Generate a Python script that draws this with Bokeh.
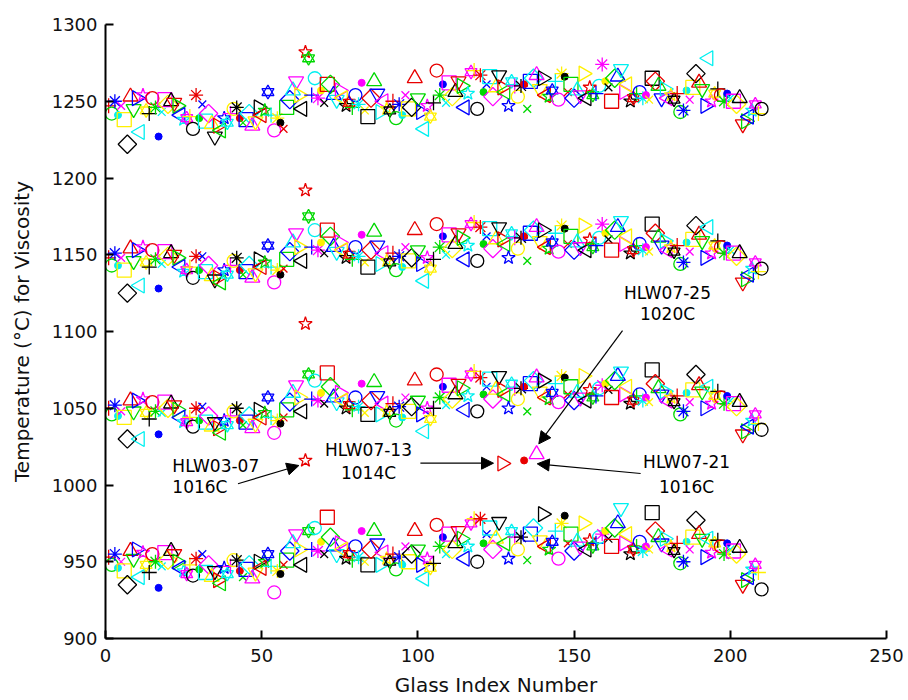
import math
from bokeh.plotting import figure
from bokeh.models import Range1d, FixedTicker, Arrow, NormalHead
from bokeh.core.properties import value
from bokeh.embed import file_html
from bokeh.resources import INLINE

# ---------------- data ----------------
glass_index = list(range(1, 211))

# temperature (C) at four viscosity levels, one value per glass
t_band1 = [
    1247, 1242, 1250, 1241, 1247, 1238, 1222, 1253, 1245, 1252,
    1230, 1254, 1244, 1242, 1252, 1246, 1227, 1243, 1251, 1248,
    1250, 1249, 1247, 1241, 1238, 1239, 1240, 1232, 1254, 1239,
    1248, 1237, 1242, 1235, 1227, 1234, 1231, 1239, 1236, 1242,
    1245, 1246, 1239, 1236, 1238, 1242, 1234, 1237, 1246, 1241,
    1244, 1256, 1241, 1231, 1239, 1236, 1232, 1246, 1251, 1257,
    1263, 1254, 1245, 1282, 1278, 1254, 1265, 1252, 1257, 1249,
    1261, 1261, 1254, 1251, 1257, 1252, 1247, 1249, 1246, 1254,
    1248, 1262, 1244, 1240, 1252, 1263, 1255, 1243, 1250, 1245,
    1244, 1250, 1239, 1248, 1241, 1254, 1245, 1246, 1265, 1252,
    1243, 1232, 1247, 1240, 1249, 1270, 1254, 1261, 1249, 1262,
    1253, 1256, 1263, 1260, 1246, 1255, 1269, 1270, 1245, 1267,
    1256, 1261, 1266, 1253, 1259, 1267, 1259, 1256, 1247, 1263,
    1260, 1253, 1260, 1261, 1245, 1263, 1265, 1267, 1258, 1265,
    1254, 1253, 1257, 1263, 1251, 1268, 1266, 1256, 1261, 1252,
    1257, 1254, 1268, 1252, 1259, 1254, 1255, 1260, 1274, 1263,
    1259, 1250, 1265, 1266, 1271, 1256, 1261, 1250, 1252, 1255,
    1256, 1252, 1254, 1251, 1265, 1263, 1260, 1252, 1258, 1252,
    1254, 1251, 1255, 1243, 1244, 1257, 1251, 1259, 1268, 1262,
    1258, 1247, 1278, 1250, 1255, 1258, 1254, 1250, 1255, 1252,
    1250, 1248, 1252, 1235, 1237, 1240, 1244, 1248, 1242, 1245,
]
t_band2 = [
    1148, 1143, 1151, 1143, 1148, 1140, 1125, 1154, 1146, 1153,
    1130, 1155, 1145, 1142, 1153, 1147, 1128, 1144, 1152, 1149,
    1151, 1150, 1148, 1142, 1139, 1140, 1142, 1135, 1149, 1140,
    1149, 1139, 1143, 1136, 1134, 1135, 1132, 1140, 1137, 1143,
    1146, 1148, 1140, 1137, 1139, 1143, 1135, 1138, 1147, 1142,
    1145, 1156, 1142, 1132, 1140, 1137, 1141, 1147, 1152, 1158,
    1164, 1155, 1146, 1192, 1175, 1155, 1166, 1153, 1158, 1151,
    1166, 1162, 1155, 1152, 1158, 1153, 1148, 1150, 1147, 1155,
    1149, 1163, 1145, 1142, 1153, 1165, 1156, 1144, 1151, 1146,
    1145, 1151, 1140, 1149, 1142, 1155, 1146, 1148, 1166, 1153,
    1144, 1133, 1148, 1141, 1147, 1170, 1155, 1162, 1150, 1163,
    1154, 1157, 1164, 1161, 1147, 1156, 1170, 1171, 1146, 1168,
    1157, 1162, 1167, 1154, 1160, 1168, 1160, 1157, 1148, 1164,
    1161, 1154, 1161, 1162, 1146, 1164, 1166, 1168, 1159, 1166,
    1155, 1154, 1158, 1164, 1152, 1169, 1167, 1157, 1162, 1153,
    1158, 1155, 1169, 1153, 1160, 1155, 1156, 1161, 1170, 1164,
    1160, 1153, 1166, 1168, 1172, 1157, 1162, 1151, 1153, 1156,
    1157, 1153, 1155, 1152, 1170, 1164, 1161, 1156, 1159, 1153,
    1155, 1152, 1156, 1144, 1145, 1158, 1152, 1160, 1169, 1163,
    1159, 1148, 1168, 1151, 1156, 1159, 1155, 1151, 1156, 1153,
    1151, 1149, 1151, 1132, 1134, 1137, 1141, 1145, 1139, 1141,
]
t_band3 = [
    1050, 1046, 1052, 1045, 1048, 1044, 1030, 1055, 1048, 1055,
    1030, 1056, 1047, 1043, 1054, 1048, 1033, 1047, 1054, 1050,
    1053, 1052, 1049, 1044, 1041, 1041, 1044, 1038, 1050, 1042,
    1051, 1041, 1045, 1038, 1041, 1037, 1034, 1042, 1039, 1045,
    1048, 1050, 1042, 1039, 1041, 1045, 1037, 1040, 1049, 1044,
    1047, 1057, 1044, 1034, 1042, 1040, 1044, 1049, 1054, 1060,
    1065, 1057, 1048, 1105, 1072, 1056, 1068, 1055, 1060, 1053,
    1073, 1064, 1057, 1054, 1060, 1055, 1050, 1052, 1049, 1057,
    1051, 1066, 1047, 1046, 1055, 1067, 1058, 1046, 1053, 1048,
    1047, 1053, 1042, 1051, 1044, 1057, 1048, 1051, 1068, 1055,
    1046, 1035, 1050, 1043, 1050, 1072, 1057, 1064, 1052, 1065,
    1056, 1059, 1066, 1063, 1049, 1058, 1072, 1074, 1048, 1070,
    1059, 1064, 1069, 1056, 1062, 1071, 1062, 1059, 1050, 1066,
    1063, 1056, 1063, 1064, 1048, 1066, 1068, 1070, 1061, 1068,
    1057, 1056, 1060, 1066, 1054, 1071, 1070, 1059, 1064, 1055,
    1060, 1057, 1071, 1055, 1062, 1057, 1058, 1063, 1065, 1066,
    1062, 1057, 1068, 1071, 1074, 1059, 1064, 1053, 1055, 1058,
    1059, 1055, 1057, 1054, 1075, 1066, 1063, 1059, 1061, 1055,
    1057, 1054, 1058, 1046, 1048, 1060, 1054, 1062, 1072, 1065,
    1061, 1050, 1064, 1053, 1058, 1061, 1057, 1053, 1058, 1055,
    1053, 1051, 1054, 1033, 1035, 1038, 1042, 1046, 1040, 1036,
]
t_band4 = [
    953, 948, 955, 946, 950, 944, 935, 957, 952, 958,
    940, 956, 948, 943, 955, 950, 933, 947, 956, 951,
    957, 955, 950, 946, 944, 942, 948, 941, 952, 945,
    955, 943, 948, 940, 944, 938, 936, 946, 942, 947,
    951, 951, 944, 940, 945, 948, 939, 943, 950, 946,
    950, 955, 947, 930, 944, 942, 948, 951, 957, 962,
    968, 958, 948, 1016, 970, 958, 972, 957, 963, 955,
    979, 966, 960, 955, 962, 958, 952, 955, 951, 960,
    953, 970, 950, 948, 958, 970, 962, 948, 956, 952,
    950, 955, 945, 953, 948, 960, 950, 955, 970, 958,
    948, 939, 952, 946, 949, 974, 960, 966, 955, 968,
    958, 962, 970, 965, 952, 960, 975, 978, 950, 978,
    962, 968, 972, 958, 965, 976, 1014, 962, 952, 970,
    966, 958, 966, 1016, 951, 968, 972, 1020, 964, 981,
    960, 958, 963, 970, 952, 975, 980, 962, 968, 957,
    963, 960, 975, 958, 964, 960, 962, 966, 968, 970,
    965, 960, 972, 975, 985, 962, 968, 955, 958, 960,
    963, 957, 960, 958, 982, 970, 966, 962, 965, 958,
    960, 957, 962, 949, 950, 963, 958, 966, 977, 968,
    965, 953, 965, 956, 962, 964, 960, 955, 962, 958,
    957, 955, 959, 935, 938, 940, 945, 948, 943, 932,
]

x_ticks = [0, 50, 100, 150, 200, 250]
y_ticks = [900, 950, 1000, 1050, 1100, 1150, 1200, 1250, 1300]

note_names = ["HLW03-07", "HLW07-13", "HLW07-25", "HLW07-21"]
note_temps = ["1016C", "1014C", "1020C", "1016C"]

# ---------------- styles ----------------
COLOR_CYCLE = ["#E80000", "#00D800", "#0000FF", "#00F0F0", "#FF00FF", "#FFF000", "#000000"]
MARKER_CYCLE = "+o*.xsd^v><ph"

p = figure(width=908, height=700, x_range=Range1d(0, 250), y_range=Range1d(900, 1300),
           output_backend="svg", toolbar_location=None,
           min_border_left=105, min_border_right=22, min_border_top=24, min_border_bottom=62)
p.background_fill_color = "white"
p.border_fill_color = "white"
p.outline_line_color = None
p.grid.visible = False

FONT = "DejaVu Sans"
for ax in (p.xaxis[0], p.yaxis[0]):
    ax.axis_line_color = "black"
    ax.axis_line_width = 2
    ax.major_tick_line_color = "black"
    ax.major_tick_line_width = 2
    ax.major_tick_in = 8
    ax.major_tick_out = 0
    ax.minor_tick_line_color = None
    ax.major_label_text_font = FONT
    ax.major_label_text_font_size = "18px"
    ax.major_label_text_color = "#111111"
    ax.axis_label_text_font = FONT
    ax.axis_label_text_font_size = "20px"
    ax.axis_label_text_font_style = "normal"
    ax.axis_label_text_color = "#111111"

p.xaxis.ticker = FixedTicker(ticks=x_ticks)
p.yaxis.ticker = FixedTicker(ticks=y_ticks)
p.xaxis.axis_label = "Glass Index Number"
p.yaxis.axis_label = "Temperature (°C) for Viscosity"
p.xaxis.major_label_standoff = 10
p.yaxis.major_label_standoff = 8
p.xaxis.axis_label_standoff = 8
p.yaxis.axis_label_standoff = 15


def draw_marker(xs, ys, code, color):
    lw = 1.3
    if code == "+":
        p.scatter(xs, ys, marker="cross", size=15, line_color=color, line_width=lw)
    elif code == "o":
        p.scatter(xs, ys, marker="circle", size=13, line_color=color, fill_color=None, line_width=lw)
    elif code == "*":
        p.scatter(xs, ys, marker="asterisk", size=14, line_color=color, line_width=lw)
    elif code == ".":
        p.scatter(xs, ys, marker="circle", size=7, line_color=color, fill_color=color, line_width=1)
    elif code == "x":
        p.scatter(xs, ys, marker="x", size=11, line_color=color, line_width=lw)
    elif code == "s":
        p.scatter(xs, ys, marker="square", size=14, line_color=color, fill_color=None, line_width=lw)
    elif code == "d":
        p.scatter(xs, ys, marker="square", size=13, angle=math.pi / 4,
                  line_color=color, fill_color=None, line_width=lw)
    elif code == "^":
        p.scatter(xs, ys, marker="triangle", size=15, line_color=color, fill_color=None, line_width=lw)
    elif code == "v":
        p.scatter(xs, ys, marker="inverted_triangle", size=15, line_color=color, fill_color=None, line_width=lw)
    elif code == ">":
        p.scatter(xs, ys, marker="triangle", size=15, angle=-math.pi / 2,
                  line_color=color, fill_color=None, line_width=lw)
    elif code == "<":
        p.scatter(xs, ys, marker="triangle", size=15, angle=math.pi / 2,
                  line_color=color, fill_color=None, line_width=lw)
    elif code == "p":
        p.scatter(xs, ys, marker="star", size=14, line_color=color, fill_color=None, line_width=lw)
    elif code == "h":
        p.scatter(xs, ys, marker="triangle", size=12, line_color=color, fill_color=None, line_width=lw)
        p.scatter(xs, ys, marker="inverted_triangle", size=12, line_color=color, fill_color=None, line_width=lw)


for k, gi in enumerate(glass_index):
    color = COLOR_CYCLE[(gi - 1) % len(COLOR_CYCLE)]
    code = MARKER_CYCLE[(gi - 1) % len(MARKER_CYCLE)]
    ys = [t_band1[k], t_band2[k], t_band3[k], t_band4[k]]
    draw_marker([gi] * 4, ys, code, color)

# ---------------- annotations ----------------
note_layout = [
    # (x, y line1, y line2, align, arrow start x, y, arrow end x, y)
    (21.4, 1012.7, 998.4, "left", 42.4, 1000.8, 61.9, 1012.7),
    (84.2, 1022.5, 1007.5, "center", 100.8, 1014.2, 124.2, 1014.2),
    (179.9, 1125.4, 1111.7, "center", 165.5, 1100.6, 138.7, 1026.8),
    (186.0, 1014.7, 998.4, "center", 171.3, 1007.5, 138.2, 1013.8),
]
for name, temp, lay in zip(note_names, note_temps, note_layout):
    tx, ty1, ty2, align, xs0, ys0, xe, ye = lay
    p.text(x=[tx, tx], y=[ty1, ty2], text=[name, temp], text_align=align,
           text_baseline="middle", text_font=value(FONT), text_font_size="17px",
           text_color="black")
    p.add_layout(Arrow(end=NormalHead(size=12, fill_color="black", line_color="black", line_width=1),
                       x_start=xs0, y_start=ys0, x_end=xe, y_end=ye,
                       line_color="black", line_width=1.2))

open("out.html", "w").write(file_html(p, INLINE))
